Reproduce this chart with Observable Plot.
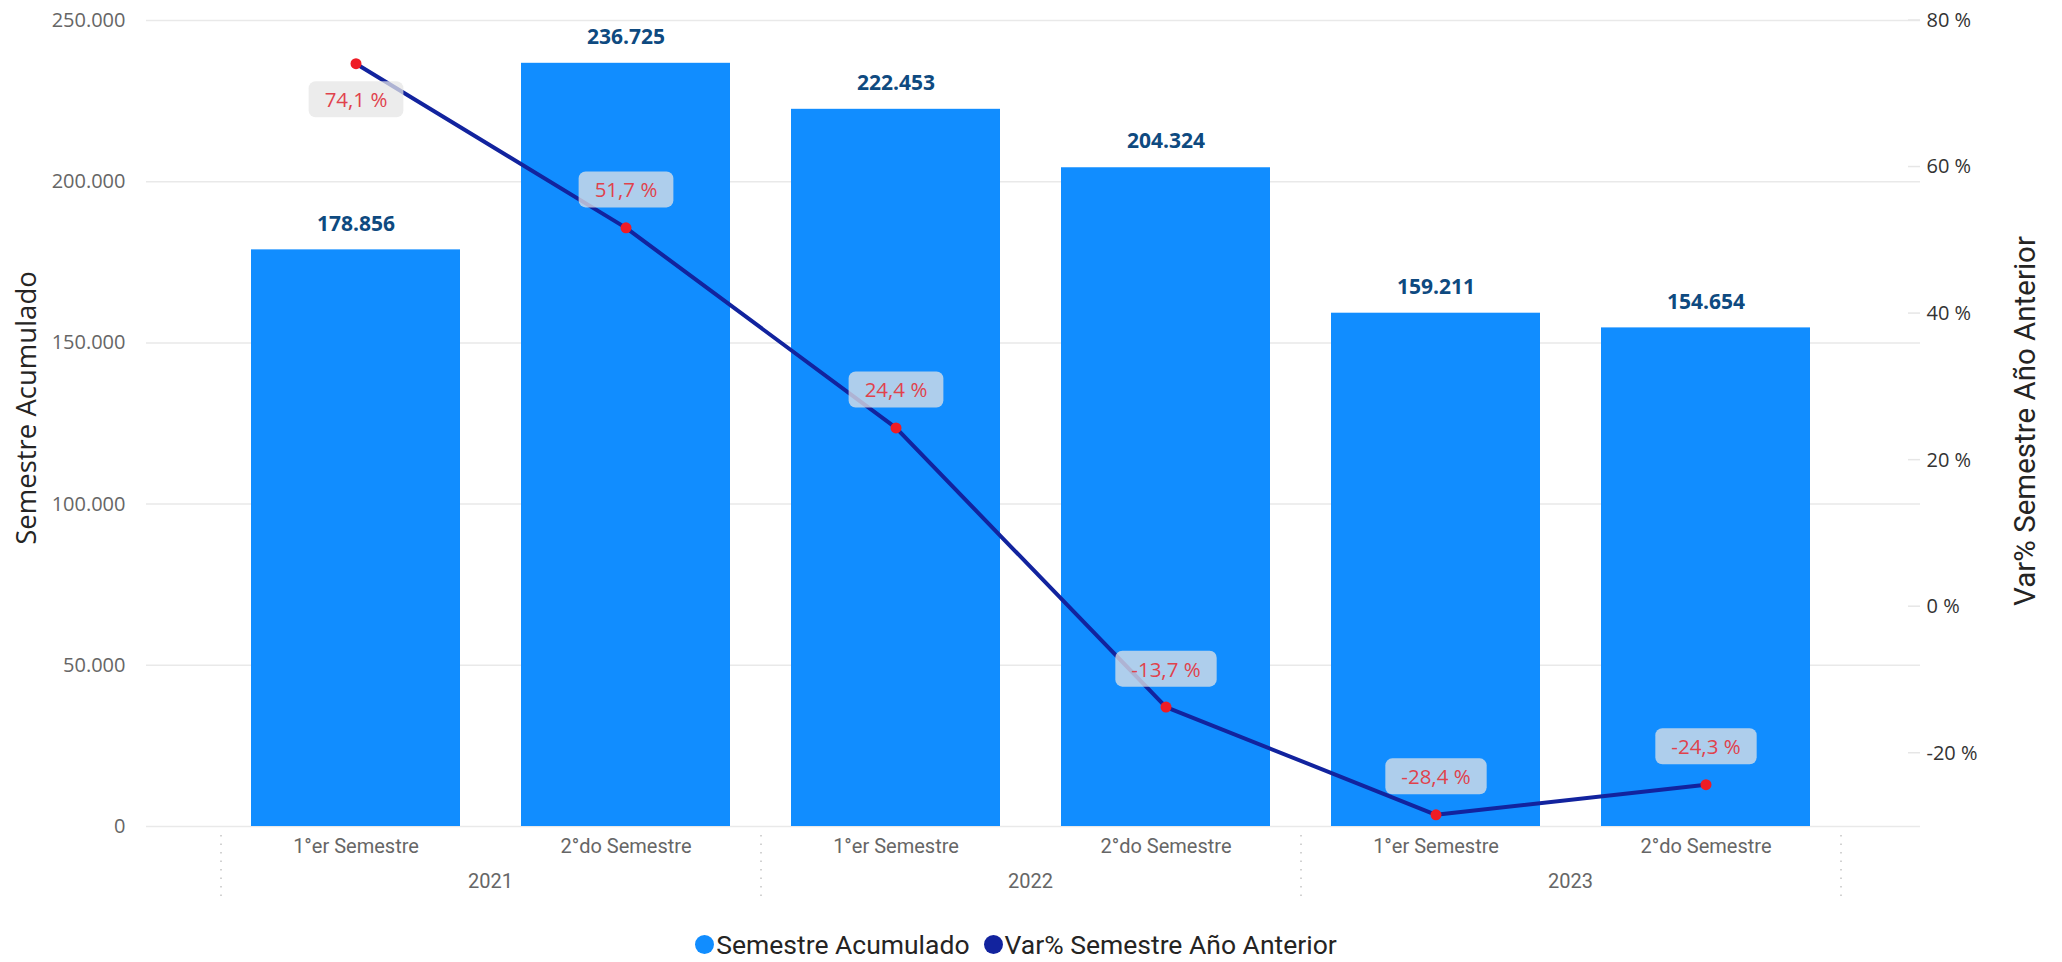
<!DOCTYPE html>
<html>
<head>
<meta charset="utf-8">
<script src="https://cdn.jsdelivr.net/npm/d3@7"></script>
<script src="https://cdn.jsdelivr.net/npm/@observablehq/plot@0.6"></script>
<style>
  body { margin: 0; background: #fff; }
  #chart svg { display: block; }
  #legend { height: 58px; display: flex; justify-content: center; align-items: center; padding-right: 30px;
            font-family: Roboto, sans-serif; font-size: 26.5px; color: #252423; gap: 14px; }
  #legend .item { display: flex; align-items: center; gap: 2px; }
  #legend .sw { width: 19px; height: 19px; border-radius: 50%; display: inline-block; }
</style>
</head>
<body>
<div id="chart"></div>
<div id="legend"></div>
<script>
// ---- data ----
const years = ["2021", "2021", "2022", "2022", "2023", "2023"];
const semesters = ["1°er Semestre", "2°do Semestre", "1°er Semestre", "2°do Semestre", "1°er Semestre", "2°do Semestre"];
const acumulado = [178856, 236725, 222453, 204324, 159211, 154654];
const variacion = [74.1, 51.7, 24.4, -13.7, -28.4, -24.3];
const leftTicks = [0, 50000, 100000, 150000, 200000, 250000];
const rightTicks = [-20, 0, 20, 40, 60, 80];
const leftDomain = [0, 250000];
const rightDomain = [-30, 80];
const seriesNames = ["Semestre Acumulado", "Var% Semestre Año Anterior"];
const seriesColors = ["#118DFF", "#12239E"];

// ---- helpers ----
const loc = d3.formatLocale({decimal: ",", thousands: ".", grouping: [3], currency: ["", " €"], minus: "-"});
const fmtInt = loc.format(",.0f");
const fmtOne = loc.format(".1f");
const fmtPct = v => fmtOne(v) + " %";
const toY = p => (p - rightDomain[0]) / (rightDomain[1] - rightDomain[0]) * (leftDomain[1] - leftDomain[0]) + leftDomain[0];
const fromY = y => (y - leftDomain[0]) / (leftDomain[1] - leftDomain[0]) * (rightDomain[1] - rightDomain[0]) + rightDomain[0];

const data = semesters.map((s, i) => ({
  key: years[i] + "|" + s, year: years[i], sem: s,
  value: acumulado[i], pct: variacion[i], py: toY(variacion[i])
}));

const numFont = "'Open Sans', 'Noto Sans', sans-serif";
const catFont = "Roboto, sans-serif";
const pctColor = "#E0424C";

// custom decorations: year labels, separators, right tick marks, titles
function decorations(index, scales, values, dims) {
  const x = scales.x, y = scales.y;
  const step = x.step(), bw = x.bandwidth();
  const bottom = dims.height - dims.marginBottom;
  const right = dims.width - dims.marginRight;
  const g = d3.create("svg:g");
  const seps = new Set();
  [...new Set(years)].forEach(yr => {
    const keys = data.filter(d => d.year === yr).map(d => d.key);
    const x0 = x(keys[0]) - (step - bw) / 2;
    const x1 = x(keys[keys.length - 1]) + bw + (step - bw) / 2;
    seps.add(Math.round(x0)); seps.add(Math.round(x1));
    g.append("text").attr("x", (x0 + x1) / 2).attr("y", bottom + 55)
      .attr("text-anchor", "middle").attr("dominant-baseline", "central")
      .attr("font-family", catFont).attr("font-size", 20).attr("fill", "#666").text(yr);
  });
  for (const sx of seps) {
    g.append("line").attr("x1", sx).attr("x2", sx).attr("y1", bottom + 9).attr("y2", bottom + 75)
      .attr("stroke", "#c4c4c4").attr("stroke-width", 1.5).attr("stroke-dasharray", "1.5,7");
  }
  rightTicks.forEach(t => {
    const ty = y(toY(t));
    g.append("line").attr("x1", right - 12).attr("x2", right).attr("y1", ty).attr("y2", ty)
      .attr("stroke", "#e6e6e6").attr("stroke-width", 1.5);
  });
  const midY = (dims.marginTop + bottom) / 2;
  g.append("text").attr("transform", `translate(25,${midY - 15}) rotate(-90)`)
    .attr("text-anchor", "middle").attr("dominant-baseline", "central")
    .attr("font-family", numFont).attr("font-size", 27.5).attr("fill", "#252423").text("Semestre Acumulado");
  g.append("text").attr("transform", `translate(2025,${midY - 2}) rotate(-90)`)
    .attr("text-anchor", "middle").attr("dominant-baseline", "central")
    .attr("font-family", catFont).attr("font-size", 29.5).attr("fill", "#252423").text("Var% Semestre Año Anterior");
  return g.node();
}

const chart = Plot.plot({
  width: 2062,
  height: 915,
  marginTop: 20,
  marginBottom: 89,
  marginLeft: 146,
  marginRight: 142,
  style: {background: "#fff", overflow: "visible"},
  x: {type: "band", domain: data.map(d => d.key), range: [221, 1841], paddingInner: 0.225, paddingOuter: 0.1125, label: null},
  y: {domain: leftDomain, label: null},
  marks: [
    Plot.gridY(leftTicks, {stroke: "#e9e9e9", strokeOpacity: 1, strokeWidth: 1.5}),
    Plot.barY(data, {x: "key", y: "value", fill: seriesColors[0]}),
    Plot.text(data, {x: "key", y: "value", text: d => fmtInt(d.value), dy: -26, fontWeight: "bold",
      fontSize: 21, fill: "#0E4A80", fontFamily: numFont}),
    Plot.line(data, {x: "key", y: "py", stroke: seriesColors[1], strokeWidth: 4}),
    Plot.dot(data, {x: "key", y: "py", r: 5.5, fill: "#EE1C25", stroke: "none"}),
    Plot.text(data.filter(d => d.pct > 70), {x: "key", y: "py", text: d => fmtPct(d.pct), dy: 37,
      fontSize: 20.5, fill: pctColor, fontFamily: numFont}),
    Plot.text(data.filter(d => d.pct <= 70), {x: "key", y: "py", text: d => fmtPct(d.pct), dy: -37,
      fontSize: 20.5, fill: pctColor, fontFamily: numFont}),
    Plot.axisY({ticks: leftTicks, tickFormat: fmtInt, tickSize: 0, tickPadding: 21, fontSize: 20,
      fill: "#666", label: null, fontFamily: numFont}),
    Plot.axisY({anchor: "right", ticks: rightTicks.map(toY), tickFormat: d => Math.round(fromY(d)) + " %",
      tickSize: 0, tickPadding: 6, fontSize: 20, fill: "#333", label: null, fontFamily: numFont}),
    Plot.axisX({tickFormat: k => k.split("|")[1], tickSize: 0, tickPadding: 12, fontSize: 20,
      fill: "#666", label: null, fontFamily: catFont}),
    decorations
  ]
});
document.getElementById("chart").append(chart);

// rounded translucent boxes behind percentage labels
const NS = "http://www.w3.org/2000/svg";
chart.querySelectorAll("text").forEach(t => {
  const g = t.closest("g");
  const fill = (t.getAttribute("fill") || (g && g.getAttribute("fill")) || "").toUpperCase();
  if (fill !== pctColor) return;
  const b = t.getBBox();
  const r = document.createElementNS(NS, "rect");
  r.setAttribute("x", b.x - 16);
  r.setAttribute("y", b.y - 4);
  r.setAttribute("width", b.width + 32);
  r.setAttribute("height", b.height + 8);
  r.setAttribute("rx", 7);
  r.setAttribute("fill", "#e6e6e6");
  r.setAttribute("fill-opacity", 0.74);
  if (t.getAttribute("transform")) r.setAttribute("transform", t.getAttribute("transform"));
  t.parentNode.insertBefore(r, t);
});

// legend
const legend = d3.select("#legend");
seriesNames.forEach((n, i) => {
  const it = legend.append("div").attr("class", "item");
  it.append("span").attr("class", "sw").style("background", seriesColors[i]);
  it.append("span").text(n);
});
</script>
</body>
</html>
